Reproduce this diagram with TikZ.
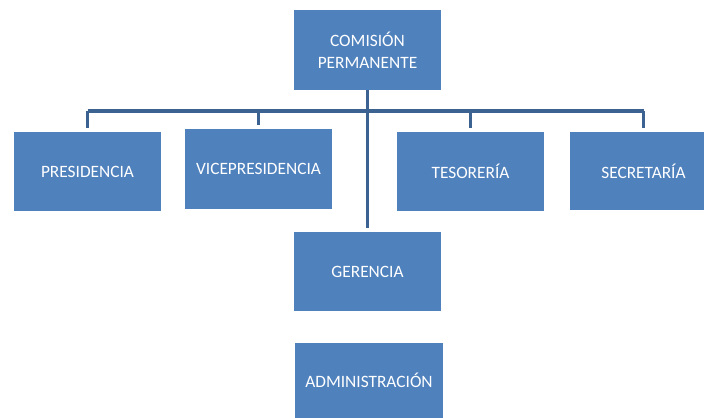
\documentclass[tikz,border=0pt]{standalone}
\usepackage{fontspec}
\setmainfont{Carlito}
\definecolor{boxblue}{RGB}{79,129,189}
\definecolor{lineblue}{RGB}{60,98,145}
\tikzset{
  box/.style={rectangle, fill=boxblue, text=white, inner sep=0pt, align=center,
    font=\fontsize{13}{16.5}\selectfont, minimum width=110.5pt, minimum height=59.5pt},
  link/.style={draw=lineblue, line width=2.5pt}
}
\begin{document}
\begin{tikzpicture}[x=0.75pt,y=0.75pt,yscale=-1,xscale=1]
			\useasboundingbox (0,0) rectangle (704,418);
			% Boxes
			\node [box] (com) at (367.5,50) {COMISIÓN\\PERMANENTE};
			\node [box] (pres) at (87.5,171.5) {PRESIDENCIA};
			\node [box, minimum width=110pt] (vice) at (258.5,169) {VICEPRESIDENCIA};
			\node [box, minimum width=110pt] (teso) at (470.5,171.5) {TESORERÍA};
			\node [box, minimum width=110pt, minimum height=58.5pt] (secr) at (643.5,171) {SECRETARÍA};
			\node [box] (ger) at (367.5,271.5) {GERENCIA};
			\node [box, minimum width=111pt, minimum height=56.5pt] (adm) at (369,380.5) {ADMINISTRACIÓN};
			% Lines
			\coordinate (bar) at (368,111);
			\draw [link, shorten >=3pt] (com.south) -- (ger.north) ;
			\draw [link] (bar -| pres.north) -- (bar -| secr.north) ;
			\draw [link, shorten >=3pt] (bar -| pres.north) -- (pres.north) ;
			\draw [link, shorten >=3pt] (bar -| vice.north) -- (vice.north) ;
			\draw [link, shorten >=3pt] (bar -| teso.north) -- (teso.north) ;
			\draw [link, shorten >=3pt] (bar -| secr.north) -- (secr.north) ;
\end{tikzpicture}
\end{document}
